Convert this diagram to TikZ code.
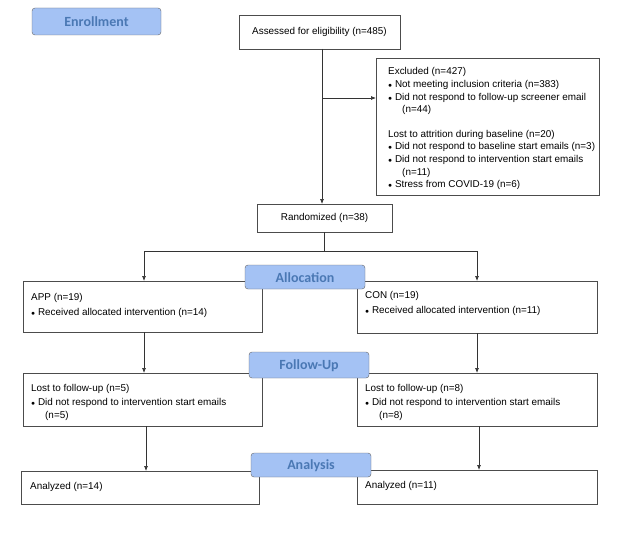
\documentclass[tikz,border=0pt]{standalone}
\usepackage{fontspec}
\setmainfont{Liberation Sans}
\newfontfamily\hdr{Carlito}
\usetikzlibrary{arrows.meta}
\definecolor{hfill}{HTML}{A4C2F4}
\definecolor{htext}{HTML}{4A78B4}
\newcommand{\bul}{{\scriptsize$\bullet$}\ }
\begin{document}
\begin{tikzpicture}[x=1pt,y=-1pt,
 box/.style={draw=black!70,line width=0.7pt,fill=white,inner sep=0pt},
 hd/.style={draw=black!60,fill=hfill,rounded corners=3pt,text=htext,font=\hdr\bfseries\fontsize{14}{16}\selectfont,inner sep=0pt},
 t/.style={font=\fontsize{9.9}{12.6}\selectfont,align=left,anchor=north west,inner sep=0pt},
 arr/.style={-{Latex[length=5pt,width=4pt]},line width=0.7pt,black!80},
 ln/.style={line width=0.7pt,black!80}]
\useasboundingbox (0,0) rectangle (617,532);
% boxes
\draw[box] (239,15) rectangle (400,49); \node (ass) at (319.5,32) {};
\node[t,anchor=center] at (319.5,32) {Assessed for eligibility (n=485)};
\draw[box] (376,58) rectangle (599,195); \node[inner sep=0] (exc) at (487.5,126.5) {};
\node[t] at (388,67.5) {Excluded (n=427)\\
\bul Not meeting inclusion criteria (n=383)\\
\bul Did not respond to follow-up screener email\\
\hspace*{14pt}(n=44)\\[12pt]
Lost to attrition during baseline (n=20)\\
\bul Did not respond to baseline start emails (n=3)\\
\bul Did not respond to intervention start emails\\
\hspace*{14pt}(n=11)\\
\bul Stress from COVID-19 (n=6)};
\draw[box] (257,204) rectangle (392,232); \node (rand) at (324.5,218) {};
\node[t,anchor=center] at (324.5,218) {Randomized (n=38)};
\draw[box] (23,281) rectangle (262,332);
\draw[box] (357,281) rectangle (597,333);
\node[t] at (31,293.5) {APP (n=19)\\[2pt] \bul Received allocated intervention (n=14)};
\node[t] at (365,291.5) {CON (n=19)\\[2pt] \bul Received allocated intervention (n=11)};
\draw[box] (23,373) rectangle (262,426);
\draw[box] (357,373) rectangle (597,426);
\node[t,font=\fontsize{9.9}{13.5}\selectfont] at (31,384.5) {Lost to follow-up (n=5)\\ \bul Did not respond to intervention start emails\\ \hspace*{14pt}(n=5)};
\node[t,font=\fontsize{9.9}{13.5}\selectfont] at (365,384.5) {Lost to follow-up (n=8)\\ \bul Did not respond to intervention start emails\\ \hspace*{14pt}(n=8)};
\draw[box] (21,471) rectangle (259,504);
\draw[box] (357,470) rectangle (597,504);
\node[t] at (30,482.5) {Analyzed (n=14)};
\node[t] at (365,481.5) {Analyzed (n=11)};
% headers
\draw[hd] (32,8) rectangle (161,35); \node[hd,draw=none,fill=none] (h1) at (96.5,22) {Enrollment};
\draw[hd] (245,265) rectangle (365,289); \node[hd,draw=none,fill=none] (h2) at (305,277.5) {Allocation};
\draw[hd] (249,352) rectangle (369,378); \node[hd,draw=none,fill=none] (h3) at (309,365.5) {Follow-Up};
\draw[hd] (251,453) rectangle (371,477); \node[hd,draw=none,fill=none] (h4) at (311,465.5) {Analysis};
% connectors
\coordinate (br) at (322,98);
\draw[arr] (322,49) -- (322,204);
\draw[arr] (br) -- (376,98);
\coordinate (sp) at (324,251);
\draw[ln] (324,232) -- (sp);
\draw[ln] (144,251) -- (477,251);
\draw[arr] (144,251) -- (144,281);
\draw[arr] (477,251) -- (477,281);
\draw[arr] (144,332) -- (144,373);
\draw[arr] (477,333) -- (477,373);
\draw[arr] (146,426) -- (146,471);
\draw[arr] (479,426) -- (479,470);
\end{tikzpicture}
\end{document}
